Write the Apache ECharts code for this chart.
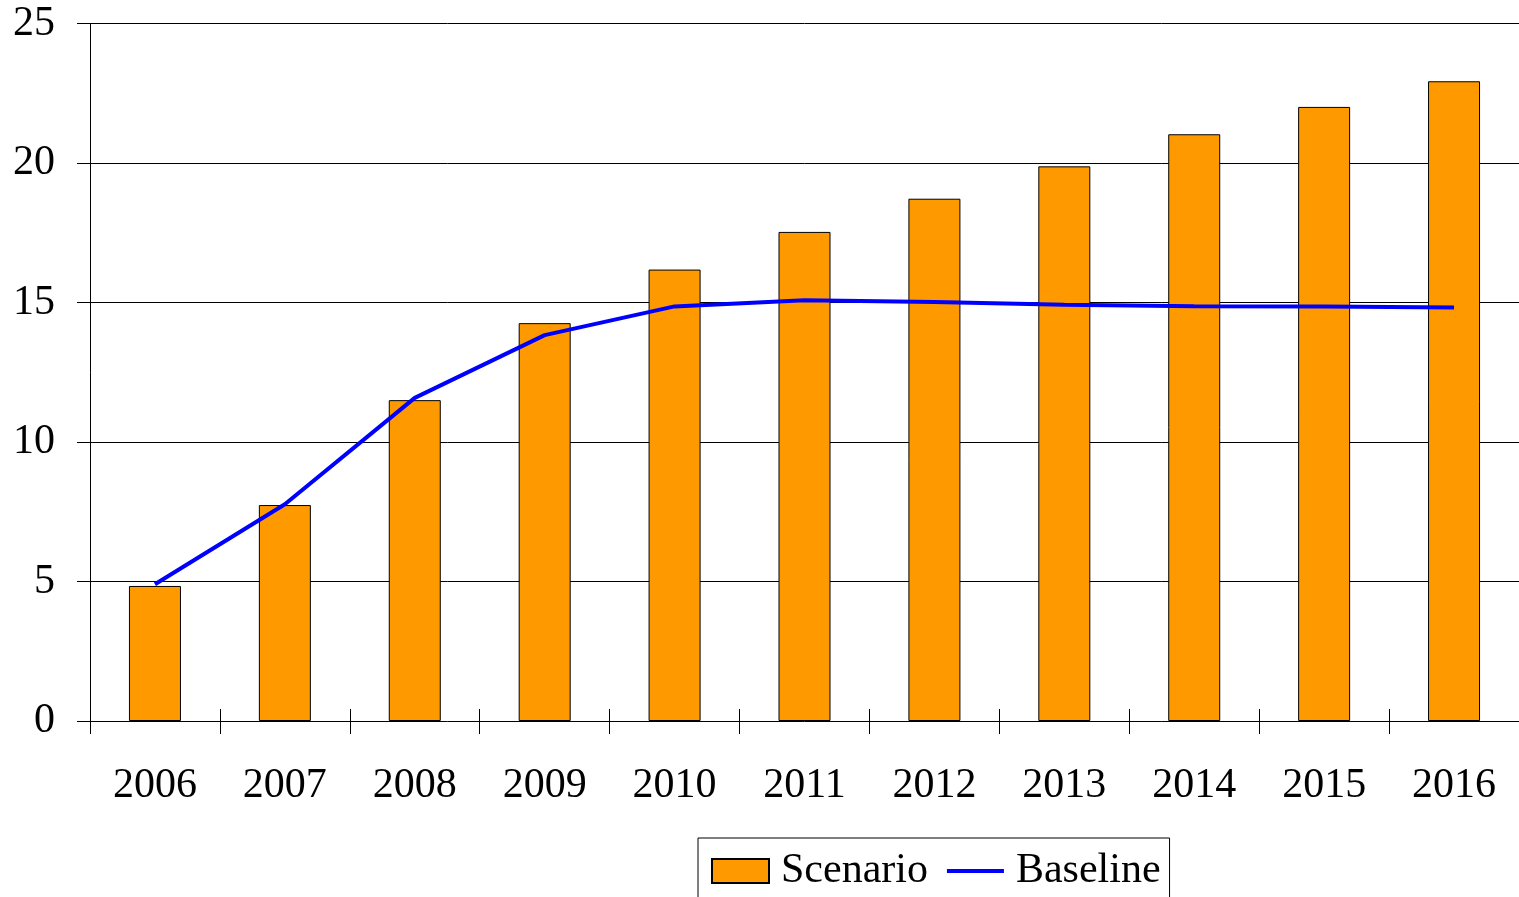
<!DOCTYPE html>
<html>
<head>
<meta charset="utf-8">
<script src="https://cdn.jsdelivr.net/npm/echarts@6/dist/echarts.min.js"></script>
<style>
  html, body { margin: 0; padding: 0; background: #fff; }
  #chart { width: 1519px; height: 897px; }
</style>
</head>
<body>
<div id="chart"></div>
<script>
// Years on the category axis
const years = ['2006', '2007', '2008', '2009', '2010', '2011', '2012', '2013', '2014', '2015', '2016'];
// Scenario values (bars)
const scenario = [4.84, 7.74, 11.50, 14.26, 16.18, 17.53, 18.72, 19.88, 21.03, 22.01, 22.93];
// Baseline values (line)
const baseline = [4.90, 7.77, 11.58, 13.83, 14.86, 15.08, 15.02, 14.92, 14.87, 14.86, 14.82];
// Value-axis range
const yMin = 0, yMax = 25, yStep = 5;

const FONT = "'Liberation Serif', 'Times New Roman', serif";

const chart = echarts.init(document.getElementById('chart'), null, { renderer: 'canvas' });

chart.setOption({
  backgroundColor: '#ffffff',
  animation: false,
  grid: { left: 90, top: 23.5, right: -2, bottom: 176, containLabel: false },
  legend: {
    left: 698,
    top: 838,
    orient: 'horizontal',
    padding: [12, 9, 12, 13],
    itemGap: 19,
    itemWidth: 57,
    itemHeight: 24,
    borderColor: '#000',
    borderWidth: 1,
    backgroundColor: '#fff',
    textStyle: { fontFamily: FONT, fontSize: 42, color: '#000', padding: [0, 0, 0, 7] },
    data: [
      { name: 'Scenario', icon: 'rect' },
      { name: 'Baseline', icon: 'path://M0,0 L58,0 L58,4 L0,4 Z' }
    ]
  },
  xAxis: {
    type: 'category',
    data: years,
    boundaryGap: true,
    position: 'bottom',
    offset: -12,
    axisLine: { show: false },
    axisTick: { show: true, inside: false, length: 25, lineStyle: { color: '#000', width: 1 } },
    axisLabel: { margin: 56, fontFamily: FONT, fontSize: 42, color: '#000' },
    splitLine: { show: false }
  },
  yAxis: {
    type: 'value',
    min: yMin,
    max: yMax,
    interval: yStep,
    axisLine: { show: true, lineStyle: { color: '#000', width: 1 } },
    axisTick: { show: true, inside: false, length: 13, lineStyle: { color: '#000', width: 1 } },
    axisLabel: { margin: 35, fontFamily: FONT, fontSize: 42, color: '#000' },
    splitLine: { show: true, lineStyle: { color: '#000', width: 1 } }
  },
  series: [
    {
      name: 'Scenario',
      type: 'bar',
      data: scenario,
      barWidth: 52,
      itemStyle: { color: '#ff9900', borderColor: '#000', borderWidth: 1 },
      z: 2
    },
    {
      name: 'Baseline',
      type: 'line',
      data: baseline,
      symbol: 'none',
      lineStyle: { color: '#0000ff', width: 4 },
      itemStyle: { color: '#0000ff' },
      z: 3
    }
  ]
});
</script>
</body>
</html>
